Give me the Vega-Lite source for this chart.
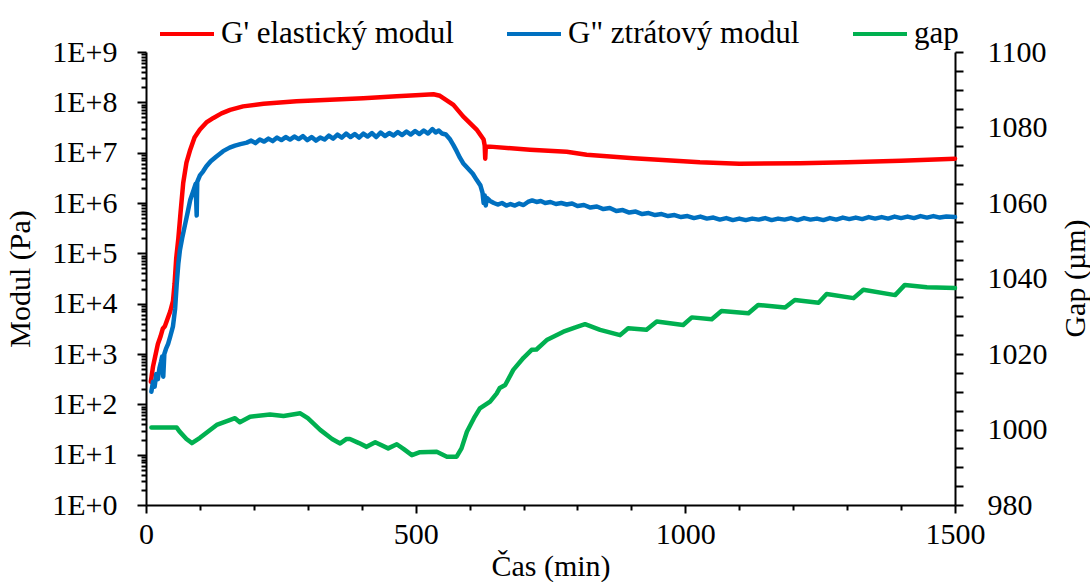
{
  "$schema": "https://vega.github.io/schema/vega-lite/v6.json",
  "autosize": "none",
  "width": 809,
  "height": 453,
  "padding": {"left": 146, "top": 52, "right": 135, "bottom": 77},
  "view": {"stroke": null},
  "datasets": {
    "mod": [
      {"t": 9, "series": "G' elastický modul", "v": 282},
      {"t": 13, "series": "G' elastický modul", "v": 562},
      {"t": 17, "series": "G' elastický modul", "v": 891},
      {"t": 22, "series": "G' elastický modul", "v": 1585},
      {"t": 27, "series": "G' elastický modul", "v": 2239},
      {"t": 31, "series": "G' elastický modul", "v": 3162},
      {"t": 35, "series": "G' elastický modul", "v": 3548},
      {"t": 40, "series": "G' elastický modul", "v": 5012},
      {"t": 45, "series": "G' elastický modul", "v": 7079},
      {"t": 50, "series": "G' elastický modul", "v": 11220},
      {"t": 53, "series": "G' elastický modul", "v": 25120},
      {"t": 56, "series": "G' elastický modul", "v": 79430},
      {"t": 60, "series": "G' elastický modul", "v": 199500},
      {"t": 64, "series": "G' elastický modul", "v": 631000},
      {"t": 69, "series": "G' elastický modul", "v": 2512000},
      {"t": 75, "series": "G' elastický modul", "v": 6310000},
      {"t": 82, "series": "G' elastický modul", "v": 1.148e7},
      {"t": 90, "series": "G' elastický modul", "v": 1.995e7},
      {"t": 100, "series": "G' elastický modul", "v": 2.884e7},
      {"t": 112, "series": "G' elastický modul", "v": 3.981e7},
      {"t": 125, "series": "G' elastický modul", "v": 4.898e7},
      {"t": 140, "series": "G' elastický modul", "v": 6.026e7},
      {"t": 156, "series": "G' elastický modul", "v": 7.079e7},
      {"t": 180, "series": "G' elastický modul", "v": 8.318e7},
      {"t": 218, "series": "G' elastický modul", "v": 9.333e7},
      {"t": 279, "series": "G' elastický modul", "v": 1.047e8},
      {"t": 341, "series": "G' elastický modul", "v": 1.122e8},
      {"t": 403, "series": "G' elastický modul", "v": 1.202e8},
      {"t": 465, "series": "G' elastický modul", "v": 1.318e8},
      {"t": 500, "series": "G' elastický modul", "v": 1.38e8},
      {"t": 533, "series": "G' elastický modul", "v": 1.445e8},
      {"t": 545, "series": "G' elastický modul", "v": 1.349e8},
      {"t": 552, "series": "G' elastický modul", "v": 1.202e8},
      {"t": 570, "series": "G' elastický modul", "v": 8.913e7},
      {"t": 588, "series": "G' elastický modul", "v": 5.248e7},
      {"t": 613, "series": "G' elastický modul", "v": 2.884e7},
      {"t": 626, "series": "G' elastický modul", "v": 1.82e7},
      {"t": 628, "series": "G' elastický modul", "v": 1.38e7},
      {"t": 629, "series": "G' elastický modul", "v": 7.586e6},
      {"t": 630, "series": "G' elastický modul", "v": 1.318e7},
      {"t": 638, "series": "G' elastický modul", "v": 1.318e7},
      {"t": 712, "series": "G' elastický modul", "v": 1.148e7},
      {"t": 780, "series": "G' elastický modul", "v": 1.047e7},
      {"t": 817, "series": "G' elastický modul", "v": 9.12e6},
      {"t": 904, "series": "G' elastický modul", "v": 7.762e6},
      {"t": 1027, "series": "G' elastický modul", "v": 6.457e6},
      {"t": 1100, "series": "G' elastický modul", "v": 6.026e6},
      {"t": 1213, "series": "G' elastický modul", "v": 6.166e6},
      {"t": 1300, "series": "G' elastický modul", "v": 6.457e6},
      {"t": 1400, "series": "G' elastický modul", "v": 6.918e6},
      {"t": 1500, "series": "G' elastický modul", "v": 7.586e6},
      {"t": 10, "series": "G\" ztrátový modul", "v": 178},
      {"t": 13, "series": "G\" ztrátový modul", "v": 282},
      {"t": 16, "series": "G\" ztrátový modul", "v": 224},
      {"t": 19, "series": "G\" ztrátový modul", "v": 398},
      {"t": 22, "series": "G\" ztrátový modul", "v": 316},
      {"t": 25, "series": "G\" ztrátový modul", "v": 525},
      {"t": 28, "series": "G\" ztrátový modul", "v": 708},
      {"t": 30, "series": "G\" ztrátový modul", "v": 891},
      {"t": 32, "series": "G\" ztrátový modul", "v": 355},
      {"t": 34, "series": "G\" ztrátový modul", "v": 1000},
      {"t": 37, "series": "G\" ztrátový modul", "v": 1259},
      {"t": 41, "series": "G\" ztrátový modul", "v": 1585},
      {"t": 45, "series": "G\" ztrátový modul", "v": 2239},
      {"t": 50, "series": "G\" ztrátový modul", "v": 3548},
      {"t": 54, "series": "G\" ztrátový modul", "v": 7943},
      {"t": 57, "series": "G\" ztrátový modul", "v": 25120},
      {"t": 60, "series": "G\" ztrátový modul", "v": 63100},
      {"t": 63, "series": "G\" ztrátový modul", "v": 117500},
      {"t": 67, "series": "G\" ztrátový modul", "v": 199500},
      {"t": 72, "series": "G\" ztrátový modul", "v": 354800},
      {"t": 77, "series": "G\" ztrátový modul", "v": 631000},
      {"t": 82, "series": "G\" ztrátový modul", "v": 1148000},
      {"t": 88, "series": "G\" ztrátový modul", "v": 1778000},
      {"t": 92, "series": "G\" ztrátový modul", "v": 2399000},
      {"t": 94, "series": "G\" ztrátový modul", "v": 562300},
      {"t": 95, "series": "G\" ztrátový modul", "v": 2630000},
      {"t": 100, "series": "G\" ztrátový modul", "v": 3548000},
      {"t": 106, "series": "G\" ztrátový modul", "v": 4266000},
      {"t": 112, "series": "G\" ztrátový modul", "v": 5370000},
      {"t": 120, "series": "G\" ztrátový modul", "v": 6761000},
      {"t": 130, "series": "G\" ztrátový modul", "v": 8318000},
      {"t": 143, "series": "G\" ztrátový modul", "v": 1.072e7},
      {"t": 155, "series": "G\" ztrátový modul", "v": 1.259e7},
      {"t": 165, "series": "G\" ztrátový modul", "v": 1.38e7},
      {"t": 175, "series": "G\" ztrátový modul", "v": 1.479e7},
      {"t": 187, "series": "G\" ztrátový modul", "v": 1.585e7},
      {"t": 195, "series": "G\" ztrátový modul", "v": 1.738e7},
      {"t": 203, "series": "G\" ztrátový modul", "v": 1.549e7},
      {"t": 211, "series": "G\" ztrátový modul", "v": 1.82e7},
      {"t": 219, "series": "G\" ztrátový modul", "v": 1.66e7},
      {"t": 227, "series": "G\" ztrátový modul", "v": 1.905e7},
      {"t": 235, "series": "G\" ztrátový modul", "v": 1.698e7},
      {"t": 243, "series": "G\" ztrátový modul", "v": 1.995e7},
      {"t": 251, "series": "G\" ztrátový modul", "v": 1.778e7},
      {"t": 259, "series": "G\" ztrátový modul", "v": 2.042e7},
      {"t": 267, "series": "G\" ztrátový modul", "v": 1.82e7},
      {"t": 275, "series": "G\" ztrátový modul", "v": 2.089e7},
      {"t": 283, "series": "G\" ztrátový modul", "v": 1.862e7},
      {"t": 291, "series": "G\" ztrátový modul", "v": 2.138e7},
      {"t": 299, "series": "G\" ztrátový modul", "v": 1.778e7},
      {"t": 307, "series": "G\" ztrátový modul", "v": 2.042e7},
      {"t": 315, "series": "G\" ztrátový modul", "v": 1.738e7},
      {"t": 323, "series": "G\" ztrátový modul", "v": 1.995e7},
      {"t": 331, "series": "G\" ztrátový modul", "v": 1.82e7},
      {"t": 339, "series": "G\" ztrátový modul", "v": 2.188e7},
      {"t": 347, "series": "G\" ztrátový modul", "v": 1.905e7},
      {"t": 355, "series": "G\" ztrátový modul", "v": 2.291e7},
      {"t": 363, "series": "G\" ztrátový modul", "v": 1.995e7},
      {"t": 371, "series": "G\" ztrátový modul", "v": 2.399e7},
      {"t": 379, "series": "G\" ztrátový modul", "v": 2.042e7},
      {"t": 387, "series": "G\" ztrátový modul", "v": 2.344e7},
      {"t": 395, "series": "G\" ztrátový modul", "v": 1.995e7},
      {"t": 403, "series": "G\" ztrátový modul", "v": 2.399e7},
      {"t": 411, "series": "G\" ztrátový modul", "v": 2.089e7},
      {"t": 419, "series": "G\" ztrátový modul", "v": 2.455e7},
      {"t": 427, "series": "G\" ztrátový modul", "v": 2.042e7},
      {"t": 435, "series": "G\" ztrátový modul", "v": 2.512e7},
      {"t": 443, "series": "G\" ztrátový modul", "v": 2.138e7},
      {"t": 451, "series": "G\" ztrátový modul", "v": 2.455e7},
      {"t": 459, "series": "G\" ztrátový modul", "v": 2.188e7},
      {"t": 467, "series": "G\" ztrátový modul", "v": 2.57e7},
      {"t": 475, "series": "G\" ztrátový modul", "v": 2.239e7},
      {"t": 483, "series": "G\" ztrátový modul", "v": 2.63e7},
      {"t": 491, "series": "G\" ztrátový modul", "v": 2.291e7},
      {"t": 499, "series": "G\" ztrátový modul", "v": 2.692e7},
      {"t": 507, "series": "G\" ztrátový modul", "v": 2.344e7},
      {"t": 515, "series": "G\" ztrátový modul", "v": 2.754e7},
      {"t": 523, "series": "G\" ztrátový modul", "v": 2.399e7},
      {"t": 531, "series": "G\" ztrátový modul", "v": 2.951e7},
      {"t": 537, "series": "G\" ztrátový modul", "v": 2.512e7},
      {"t": 543, "series": "G\" ztrátový modul", "v": 2.754e7},
      {"t": 549, "series": "G\" ztrátový modul", "v": 2.399e7},
      {"t": 556, "series": "G\" ztrátový modul", "v": 2.291e7},
      {"t": 564, "series": "G\" ztrátový modul", "v": 1.82e7},
      {"t": 570, "series": "G\" ztrátový modul", "v": 1.413e7},
      {"t": 576, "series": "G\" ztrátový modul", "v": 1.072e7},
      {"t": 582, "series": "G\" ztrátový modul", "v": 7943000},
      {"t": 588, "series": "G\" ztrátový modul", "v": 6166000},
      {"t": 594, "series": "G\" ztrátový modul", "v": 5248000},
      {"t": 600, "series": "G\" ztrátový modul", "v": 4467000},
      {"t": 606, "series": "G\" ztrátový modul", "v": 3802000},
      {"t": 613, "series": "G\" ztrátový modul", "v": 2884000},
      {"t": 620, "series": "G\" ztrátový modul", "v": 2239000},
      {"t": 624, "series": "G\" ztrátový modul", "v": 1585000},
      {"t": 626, "series": "G\" ztrátový modul", "v": 1000000},
      {"t": 628, "series": "G\" ztrátový modul", "v": 1413000},
      {"t": 630, "series": "G\" ztrátový modul", "v": 891300},
      {"t": 632, "series": "G\" ztrátový modul", "v": 1259000},
      {"t": 638, "series": "G\" ztrátový modul", "v": 1096000},
      {"t": 645, "series": "G\" ztrátový modul", "v": 1000000},
      {"t": 652, "series": "G\" ztrátový modul", "v": 933300},
      {"t": 660, "series": "G\" ztrátový modul", "v": 1000000},
      {"t": 668, "series": "G\" ztrátový modul", "v": 891300},
      {"t": 676, "series": "G\" ztrátový modul", "v": 955000},
      {"t": 684, "series": "G\" ztrátový modul", "v": 891300},
      {"t": 692, "series": "G\" ztrátový modul", "v": 977200},
      {"t": 700, "series": "G\" ztrátový modul", "v": 912000},
      {"t": 708, "series": "G\" ztrátový modul", "v": 1047000},
      {"t": 716, "series": "G\" ztrátový modul", "v": 1122000},
      {"t": 724, "series": "G\" ztrátový modul", "v": 1047000},
      {"t": 732, "series": "G\" ztrátový modul", "v": 1096000},
      {"t": 740, "series": "G\" ztrátový modul", "v": 1000000},
      {"t": 750, "series": "G\" ztrátový modul", "v": 1047000},
      {"t": 760, "series": "G\" ztrátový modul", "v": 955000},
      {"t": 770, "series": "G\" ztrátový modul", "v": 1000000},
      {"t": 780, "series": "G\" ztrátový modul", "v": 933300},
      {"t": 790, "series": "G\" ztrátový modul", "v": 977200},
      {"t": 800, "series": "G\" ztrátový modul", "v": 871000},
      {"t": 812, "series": "G\" ztrátový modul", "v": 912000},
      {"t": 824, "series": "G\" ztrátový modul", "v": 812800},
      {"t": 836, "series": "G\" ztrátový modul", "v": 851100},
      {"t": 848, "series": "G\" ztrátový modul", "v": 758600},
      {"t": 860, "series": "G\" ztrátový modul", "v": 794300},
      {"t": 872, "series": "G\" ztrátový modul", "v": 691800},
      {"t": 884, "series": "G\" ztrátový modul", "v": 724400},
      {"t": 896, "series": "G\" ztrátový modul", "v": 645700},
      {"t": 908, "series": "G\" ztrátový modul", "v": 676100},
      {"t": 920, "series": "G\" ztrátový modul", "v": 602600},
      {"t": 932, "series": "G\" ztrátový modul", "v": 631000},
      {"t": 944, "series": "G\" ztrátový modul", "v": 575400},
      {"t": 956, "series": "G\" ztrátový modul", "v": 602600},
      {"t": 968, "series": "G\" ztrátový modul", "v": 549500},
      {"t": 980, "series": "G\" ztrátový modul", "v": 575400},
      {"t": 992, "series": "G\" ztrátový modul", "v": 524800},
      {"t": 1004, "series": "G\" ztrátový modul", "v": 549500},
      {"t": 1016, "series": "G\" ztrátový modul", "v": 501200},
      {"t": 1028, "series": "G\" ztrátový modul", "v": 537000},
      {"t": 1040, "series": "G\" ztrátový modul", "v": 489800},
      {"t": 1052, "series": "G\" ztrátový modul", "v": 512900},
      {"t": 1064, "series": "G\" ztrátový modul", "v": 467700},
      {"t": 1076, "series": "G\" ztrátový modul", "v": 501200},
      {"t": 1088, "series": "G\" ztrátový modul", "v": 457100},
      {"t": 1100, "series": "G\" ztrátový modul", "v": 489800},
      {"t": 1112, "series": "G\" ztrátový modul", "v": 457100},
      {"t": 1124, "series": "G\" ztrátový modul", "v": 489800},
      {"t": 1136, "series": "G\" ztrátový modul", "v": 467700},
      {"t": 1148, "series": "G\" ztrátový modul", "v": 501200},
      {"t": 1160, "series": "G\" ztrátový modul", "v": 457100},
      {"t": 1172, "series": "G\" ztrátový modul", "v": 489800},
      {"t": 1184, "series": "G\" ztrátový modul", "v": 467700},
      {"t": 1196, "series": "G\" ztrátový modul", "v": 501200},
      {"t": 1208, "series": "G\" ztrátový modul", "v": 457100},
      {"t": 1220, "series": "G\" ztrátový modul", "v": 501200},
      {"t": 1232, "series": "G\" ztrátový modul", "v": 467700},
      {"t": 1244, "series": "G\" ztrátový modul", "v": 489800},
      {"t": 1256, "series": "G\" ztrátový modul", "v": 457100},
      {"t": 1268, "series": "G\" ztrátový modul", "v": 501200},
      {"t": 1280, "series": "G\" ztrátový modul", "v": 467700},
      {"t": 1292, "series": "G\" ztrátový modul", "v": 512900},
      {"t": 1304, "series": "G\" ztrátový modul", "v": 478600},
      {"t": 1316, "series": "G\" ztrátový modul", "v": 512900},
      {"t": 1328, "series": "G\" ztrátový modul", "v": 478600},
      {"t": 1340, "series": "G\" ztrátový modul", "v": 524800},
      {"t": 1352, "series": "G\" ztrátový modul", "v": 489800},
      {"t": 1364, "series": "G\" ztrátový modul", "v": 524800},
      {"t": 1376, "series": "G\" ztrátový modul", "v": 489800},
      {"t": 1388, "series": "G\" ztrátový modul", "v": 537000},
      {"t": 1400, "series": "G\" ztrátový modul", "v": 501200},
      {"t": 1412, "series": "G\" ztrátový modul", "v": 537000},
      {"t": 1424, "series": "G\" ztrátový modul", "v": 501200},
      {"t": 1436, "series": "G\" ztrátový modul", "v": 549500},
      {"t": 1448, "series": "G\" ztrátový modul", "v": 512900},
      {"t": 1460, "series": "G\" ztrátový modul", "v": 549500},
      {"t": 1472, "series": "G\" ztrátový modul", "v": 512900},
      {"t": 1484, "series": "G\" ztrátový modul", "v": 537000},
      {"t": 1500, "series": "G\" ztrátový modul", "v": 524800}
    ],
    "gap": [
      {"t": 10, "series": "gap", "v": 1000.5},
      {"t": 57, "series": "gap", "v": 1000.5},
      {"t": 62, "series": "gap", "v": 999.5},
      {"t": 75, "series": "gap", "v": 997.5},
      {"t": 85, "series": "gap", "v": 996.4},
      {"t": 100, "series": "gap", "v": 997.8},
      {"t": 131, "series": "gap", "v": 1001.2},
      {"t": 150, "series": "gap", "v": 1002.2},
      {"t": 165, "series": "gap", "v": 1003.0},
      {"t": 174, "series": "gap", "v": 1001.9},
      {"t": 193, "series": "gap", "v": 1003.4},
      {"t": 230, "series": "gap", "v": 1004.0},
      {"t": 255, "series": "gap", "v": 1003.6},
      {"t": 286, "series": "gap", "v": 1004.3},
      {"t": 300, "series": "gap", "v": 1003.0},
      {"t": 323, "series": "gap", "v": 999.9},
      {"t": 345, "series": "gap", "v": 997.5},
      {"t": 360, "series": "gap", "v": 996.3},
      {"t": 372, "series": "gap", "v": 997.5},
      {"t": 378, "series": "gap", "v": 997.5},
      {"t": 395, "series": "gap", "v": 996.4},
      {"t": 409, "series": "gap", "v": 995.4},
      {"t": 425, "series": "gap", "v": 996.6},
      {"t": 449, "series": "gap", "v": 995.0},
      {"t": 465, "series": "gap", "v": 996.1},
      {"t": 478, "series": "gap", "v": 994.8},
      {"t": 493, "series": "gap", "v": 993.2},
      {"t": 508, "series": "gap", "v": 994.0},
      {"t": 539, "series": "gap", "v": 994.1},
      {"t": 558, "series": "gap", "v": 992.8},
      {"t": 576, "series": "gap", "v": 992.8},
      {"t": 585, "series": "gap", "v": 995.0},
      {"t": 595, "series": "gap", "v": 999.4},
      {"t": 608, "series": "gap", "v": 1003.0},
      {"t": 619, "series": "gap", "v": 1005.6},
      {"t": 638, "series": "gap", "v": 1007.4},
      {"t": 650, "series": "gap", "v": 1009.5},
      {"t": 656, "series": "gap", "v": 1011.0},
      {"t": 666, "series": "gap", "v": 1011.8},
      {"t": 681, "series": "gap", "v": 1015.8},
      {"t": 700, "series": "gap", "v": 1019.0},
      {"t": 715, "series": "gap", "v": 1021.1},
      {"t": 724, "series": "gap", "v": 1021.2},
      {"t": 743, "series": "gap", "v": 1023.7},
      {"t": 774, "series": "gap", "v": 1025.9},
      {"t": 795, "series": "gap", "v": 1027.0},
      {"t": 814, "series": "gap", "v": 1027.9},
      {"t": 842, "series": "gap", "v": 1026.4},
      {"t": 879, "series": "gap", "v": 1025.0},
      {"t": 894, "series": "gap", "v": 1026.8},
      {"t": 928, "series": "gap", "v": 1026.4},
      {"t": 947, "series": "gap", "v": 1028.6},
      {"t": 996, "series": "gap", "v": 1027.7},
      {"t": 1012, "series": "gap", "v": 1029.7},
      {"t": 1049, "series": "gap", "v": 1029.2},
      {"t": 1067, "series": "gap", "v": 1031.4},
      {"t": 1117, "series": "gap", "v": 1030.8},
      {"t": 1135, "series": "gap", "v": 1033.0},
      {"t": 1185, "series": "gap", "v": 1032.3},
      {"t": 1203, "series": "gap", "v": 1034.3},
      {"t": 1247, "series": "gap", "v": 1033.6},
      {"t": 1262, "series": "gap", "v": 1035.9},
      {"t": 1312, "series": "gap", "v": 1034.8},
      {"t": 1330, "series": "gap", "v": 1037.0},
      {"t": 1389, "series": "gap", "v": 1035.6},
      {"t": 1407, "series": "gap", "v": 1038.3},
      {"t": 1448, "series": "gap", "v": 1037.7},
      {"t": 1500, "series": "gap", "v": 1037.5}
    ]
  },
  "encoding": {
    "x": {
      "field": "t", "type": "quantitative",
      "scale": {"domain": [0, 1500], "nice": false},
      "axis": {
        "title": "Čas (min)",
        "grid": false, "domainColor": "black", "domainWidth": 2, "tickColor": "black", "tickWidth": 2,
        "labelColor": "black", "titleColor": "black",
        "labelFont": "'Liberation Serif'", "titleFont": "'Liberation Serif'",
        "labelFontSize": 30, "titleFontSize": 30, "titleFontWeight": "normal",
        "values": [0, 100, 200, 300, 400, 500, 600, 700, 800, 900, 1000, 1100, 1200, 1300, 1400, 1500],
        "format": "d",
        "labelExpr": "datum.value % 500 == 0 ? datum.label : ''",
        "tickSize": {"condition": {"test": "datum.value % 500 == 0", "value": 8}, "value": 5},
        "labelPadding": 6,
        "titlePadding": 2,
        "labelFlush": false
      }
    },
    "color": {
      "field": "series", "type": "nominal",
      "scale": {"domain": ["G' elastický modul", "G\" ztrátový modul", "gap"], "range": ["#FF0000", "#0070C0", "#00B050"]},
      "legend": {
        "title": null, "orient": "none", "direction": "horizontal",
        "legendX": 12, "legendY": -47,
        "symbolType": "stroke", "symbolSize": 2916, "symbolStrokeWidth": 4,
        "labelFont": "'Liberation Serif'", "labelFontSize": 31, "labelColor": "black",
        "labelOffset": 5, "columnPadding": 45, "labelLimit": 400
      }
    }
  },
  "layer": [
    {
      "data": {"name": "mod"},
      "mark": {"type": "line", "strokeWidth": 4.5, "strokeJoin": "round", "strokeCap": "round"},
      "encoding": {
        "y": {
          "field": "v", "type": "quantitative",
          "scale": {"type": "log", "domain": [1, 1000000000], "nice": false},
          "axis": {
            "title": "Modul (Pa)", "orient": "left",
            "grid": false, "domainColor": "black", "domainWidth": 2, "tickColor": "black", "tickWidth": 2,
            "labelColor": "black", "titleColor": "black",
            "labelFont": "'Liberation Serif'", "titleFont": "'Liberation Serif'",
            "labelFontSize": 30, "titleFontSize": 30, "titleFontWeight": "normal",
            "values": [1,2,3,4,5,6,7,8,9,10,20,30,40,50,60,70,80,90,100,200,300,400,500,600,700,800,900,1000,2000,3000,4000,5000,6000,7000,8000,9000,10000,20000,30000,40000,50000,60000,70000,80000,90000,100000,200000,300000,400000,500000,600000,700000,800000,900000,1000000,2000000,3000000,4000000,5000000,6000000,7000000,8000000,9000000,10000000,20000000,30000000,40000000,50000000,60000000,70000000,80000000,90000000,100000000,200000000,300000000,400000000,500000000,600000000,700000000,800000000,900000000,1000000000],
            "labelExpr": "abs(log(datum.value)/LN10 - round(log(datum.value)/LN10)) < 0.001 ? '1E+' + round(log(datum.value)/LN10) : ''",
            "tickSize": {"condition": {"test": "abs(log(datum.value)/LN10 - round(log(datum.value)/LN10)) < 0.001", "value": 9}, "value": 5},
            "labelPadding": 20,
            "titlePadding": 16,
            "labelFlush": false
          }
        }
      }
    },
    {
      "data": {"name": "gap"},
      "mark": {"type": "line", "strokeWidth": 4.5, "strokeJoin": "round", "strokeCap": "round"},
      "encoding": {
        "y": {
          "field": "v", "type": "quantitative",
          "scale": {"domain": [980, 1100], "nice": false, "zero": false},
          "axis": {
            "title": "Gap (µm)", "orient": "right",
            "grid": false, "domainColor": "black", "domainWidth": 2, "tickColor": "black", "tickWidth": 2,
            "labelColor": "black", "titleColor": "black",
            "labelFont": "'Liberation Serif'", "titleFont": "'Liberation Serif'",
            "labelFontSize": 30, "titleFontSize": 30, "titleFontWeight": "normal",
            "values": [980,985,990,995,1000,1005,1010,1015,1020,1025,1030,1035,1040,1045,1050,1055,1060,1065,1070,1075,1080,1085,1090,1095,1100],
            "format": "d",
            "labelExpr": "datum.value % 20 == 0 ? datum.label : ''",
            "tickSize": 8,
            "labelPadding": 24,
            "titleAngle": 270,
            "titleX": 120,
            "titleY": 226,
            "titleAlign": "center",
            "titleBaseline": "middle",
            "labelFlush": false
          }
        }
      }
    }
  ],
  "resolve": {"scale": {"y": "independent"}}
}
